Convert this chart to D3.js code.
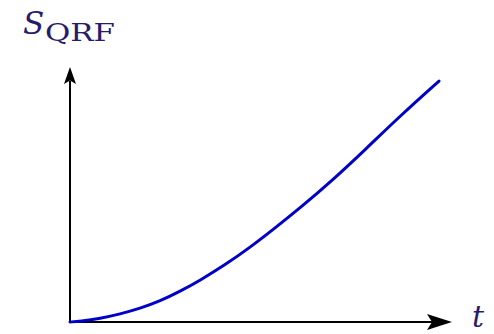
<!DOCTYPE html>
<html>
<head>
<meta charset="utf-8">
<script src="https://cdn.jsdelivr.net/npm/d3@7"></script>
<style>
  html, body { margin: 0; padding: 0; background: #ffffff; }
  svg { display: block; }
  .lbl { font-family: "DejaVu Serif", "Liberation Serif", serif; }
</style>
</head>
<body>
<svg id="chart" width="494" height="334"></svg>
<script>
// Data (t in arbitrary units 0..10, S in 0..10)
const tValues = [0, 0.26, 0.79, 1.31, 1.83, 2.36, 2.88, 3.40, 4.06, 4.71, 5.37, 6.02, 6.88, 7.77, 8.64, 9.66];
const sValues = [0, 0.03, 0.14, 0.31, 0.53, 0.82, 1.20, 1.63, 2.24, 2.92, 3.69, 4.47, 5.57, 6.82, 8.08, 9.45];
const xLabel = "t";
const yLabelMain = "S";
const yLabelSub = "QRF";

const svg = d3.select("#chart");
const x = d3.scaleLinear().domain([0, 10]).range([70, 452]);
const y = d3.scaleLinear().domain([0, 10]).range([322, 67]);

const textColor = "#261c6c";

// axes lines
svg.append("line")
  .attr("x1", x(0)).attr("y1", y(0) + 1)
  .attr("x2", x(0)).attr("y2", y(10) + 14)
  .attr("stroke", "#000").attr("stroke-width", 2);
svg.append("line")
  .attr("x1", x(0) - 1).attr("y1", y(0))
  .attr("x2", x(10) - 20).attr("y2", y(0))
  .attr("stroke", "#000").attr("stroke-width", 2);

// arrowheads (stealth-like)
const ox = x(0), oy = y(0);
const ytip = y(10);
svg.append("path")
  .attr("d", `M${ox},${ytip} L${ox + 6},${ytip + 17} L${ox},${ytip + 13.5} L${ox - 6},${ytip + 17} Z`)
  .attr("fill", "#000");
const xtip = x(10);
svg.append("path")
  .attr("d", `M${xtip},${oy} L${xtip - 25},${oy - 8} L${xtip - 20},${oy} L${xtip - 25},${oy + 8} Z`)
  .attr("fill", "#000");

// curve
const pts = tValues.map((t, i) => [t, sValues[i]]);
const line = d3.line()
  .x(d => x(d[0]))
  .y(d => y(d[1]))
  .curve(d3.curveBasis);
svg.append("path")
  .attr("d", line(pts))
  .attr("fill", "none")
  .attr("stroke", "#0000c8")
  .attr("stroke-width", 3)
  .attr("stroke-linecap", "round");

// labels
svg.append("text").attr("class", "lbl")
  .attr("x", 23).attr("y", 34)
  .style("font-style", "italic")
  .style("font-size", "31px")
  .attr("fill", textColor)
  .text(yLabelMain);
svg.append("text").attr("class", "lbl")
  .attr("x", 45).attr("y", 41)
  .style("font-size", "24px")
  .attr("fill", textColor)
  .attr("textLength", 70)
  .attr("lengthAdjust", "spacingAndGlyphs")
  .text(yLabelSub);
svg.append("text").attr("class", "lbl")
  .attr("x", 472).attr("y", 327)
  .style("font-style", "italic")
  .style("font-size", "30px")
  .attr("fill", textColor)
  .text(xLabel);
</script>
</body>
</html>
